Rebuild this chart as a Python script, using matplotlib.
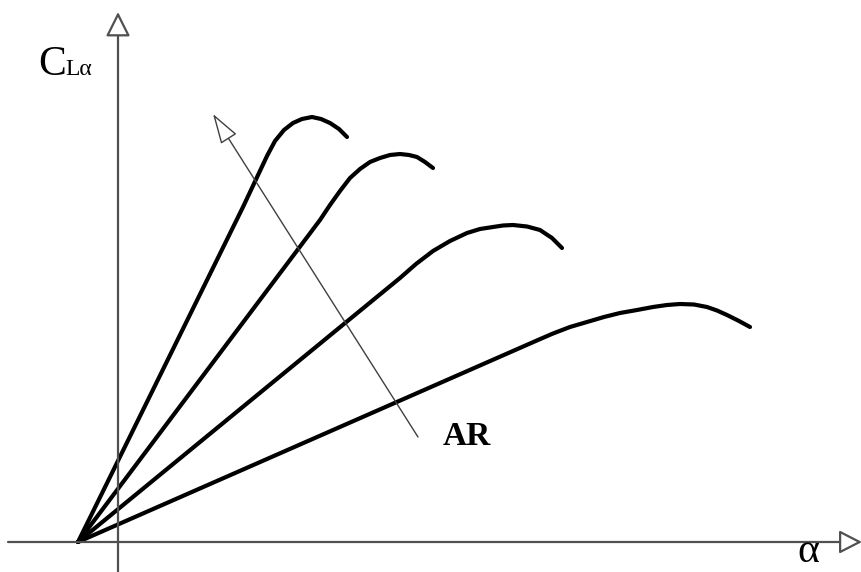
"""
Sketch of lift-curve slope vs. angle of attack for increasing aspect ratio.
"""

import matplotlib
matplotlib.use('Agg')
import matplotlib.pyplot as plt

# Lift curves, one per aspect ratio (alpha, C_L), origin at the axis crossing
alpha_1 = [-40, 125, 133, 141, 149, 157, 166, 175, 184, 194, 203, 212, 221, 229]
cl_1    = [0, 335, 352, 369, 386, 401, 412, 419, 423, 425, 423, 419, 413, 405]

alpha_2 = [-40, 202, 212, 222, 232, 242, 252, 262, 272, 282, 291, 299, 307, 315]
cl_2    = [0, 322, 337, 351, 364, 373, 380, 384, 387, 388, 387, 385, 380, 374]

alpha_3 = [-40, 282, 298, 315, 332, 349, 362, 375, 385, 395, 409, 422, 434, 444]
cl_3    = [0, 264, 278, 291, 301, 309, 313, 315, 316.5, 317, 315.5, 312, 304, 294]

alpha_4 = [-40, 420, 435, 452, 469, 486, 502, 519, 535, 549, 562, 576, 589,
           599, 609, 621, 632]
cl_4    = [0, 202, 208.5, 215, 220, 225, 229, 232, 235, 237, 238, 237.5, 235,
           231.5, 227, 221, 215]

curves = [(alpha_1, cl_1), (alpha_2, cl_2), (alpha_3, cl_3), (alpha_4, cl_4)]

# Direction of increasing aspect ratio
ar_tail = (300, 105)
ar_tip = (95, 428)

axis_color = '#505050'

fig = plt.figure(figsize=(8.62, 5.72), dpi=100)
ax = fig.add_axes([0, 0, 1, 1])
ax.set_xlim(-118, 744)
ax.set_ylim(-30, 542)
ax.axis('off')

# axes with open arrow heads
ax.annotate('', xy=(744, 0), xytext=(-110, 0),
            arrowprops=dict(arrowstyle='-|>,head_length=14,head_width=7.2',
                            mutation_scale=1, fc='white', ec=axis_color,
                            lw=1.6, shrinkA=0, shrinkB=0))
ax.annotate('', xy=(0, 530), xytext=(0, -30),
            arrowprops=dict(arrowstyle='-|>,head_length=15,head_width=7.5',
                            mutation_scale=1, fc='white', ec=axis_color,
                            lw=1.6, shrinkA=0, shrinkB=0))

for a, c in curves:
    ax.plot(a, c, color='black', lw=3.0, solid_capstyle='round',
            solid_joinstyle='round')

ax.annotate('', xy=ar_tip, xytext=ar_tail,
            arrowprops=dict(arrowstyle='-|>,head_length=19,head_width=5.9',
                            mutation_scale=1, fc='white', ec='#404040',
                            lw=1.0, shrinkA=0, shrinkB=0))

serif = 'Liberation Serif'
ax.text(-80, 467, 'C', fontsize=30, family=serif, va='baseline', ha='left')
ax.text(-53, 467, 'Lα', fontsize=17, family=serif, va='baseline', ha='left')
ax.text(679, -20, 'α', fontsize=30, family=serif, va='baseline', ha='left')
ax.text(325, 97, 'AR', fontsize=24, family=serif, weight='bold',
        va='baseline', ha='left')

fig.savefig('out.png', dpi=100)
